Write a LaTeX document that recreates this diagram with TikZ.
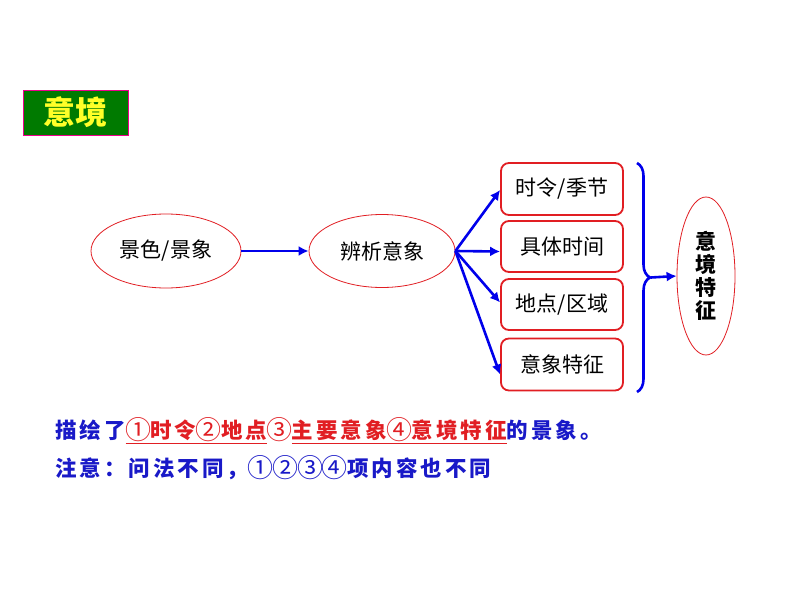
\documentclass[tikz,border=0pt]{standalone}
\usepackage{fontspec}
\setmainfont{Noto Sans CJK SC}
\newfontfamily\spacedfont[LetterSpace=14]{Noto Sans CJK SC}
\usetikzlibrary{arrows.meta,positioning,shapes.geometric,decorations.pathreplacing}
\definecolor{ttgreen}{RGB}{0,122,0}
\definecolor{ttyellow}{RGB}{255,255,40}
\definecolor{ttred}{RGB}{225,30,35}
\definecolor{ttblue}{RGB}{25,25,200}
\definecolor{arblue}{RGB}{0,0,235}
\newcommand{\circnum}[1]{\makebox[1.15em]{\raisebox{-1.5pt}{\fontsize{26}{26}\selectfont\mdseries #1}}}
\tikzset{
  oval/.style={ellipse, draw=ttred, thick, minimum width=150pt, minimum height=74pt, font=\fontsize{21}{24}\selectfont},
  itembox/.style={rectangle, rounded corners=8pt, draw=ttred, line width=1.8pt, minimum width=122pt, minimum height=51pt, font=\fontsize{21}{24}\selectfont},
  arr/.style={draw=arblue, line width=2.6pt, -{Latex[length=10pt,width=10pt]}},
  note/.style={anchor=west, inner sep=0pt, text=ttblue, font=\spacedfont\fontsize{21.5}{26}\selectfont\bfseries},
}
\begin{document}
\begin{tikzpicture}[x=1pt,y=-1pt]
  \useasboundingbox[fill=white] (0,0) rectangle (794,596);
  % title
  \node[draw=magenta, fill=ttgreen, minimum width=105pt, minimum height=45pt, text=ttyellow,
        font=\fontsize{32}{34}\selectfont\bfseries] (title) at (75.5,112.5) {意境};
  % left ovals
  \node[oval] (scene) at (166,251) {景色/景象};
  \node[oval, minimum width=146pt, minimum height=73pt] (analyse) at (382,251) {辨析意象};
  % items
  \node[itembox, minimum height=52pt] (season) at (562,189) {时令/季节};
  \node[itembox] (time) at (562,246.5) {具体时间};
  \node[itembox] (place) at (562,304.5) {地点/区域};
  \node[itembox, minimum height=52pt] (feature) at (562,364.5) {意象特征};
  % right oval
  \node[ellipse, draw=ttred, thick, minimum width=58pt, minimum height=158pt, align=center,
        font=\fontsize{21}{23}\selectfont\bfseries] (mood) at (706,276) {意\\境\\特\\征};
  % connectors
  \draw[arr] (scene) -- (analyse);
  \draw[arr] (analyse.east) -- ([yshift=-1pt]season.west);
  \draw[arr] (analyse.east) -- ([yshift=-5pt]time.west);
  \draw[arr] (analyse.east) -- ([yshift=2pt]place.west);
  \draw[arr] (analyse.east) -- ([yshift=-10pt]feature.west);
  % brace
  \draw[arblue, line width=2.6pt, decorate, decoration={brace, amplitude=13pt}] (637,163) -- (637,392);
  \coordinate (bracetip) at (651,277.5);
  \draw[arr] (bracetip) -- (mood.west);
  % notes
  \node[note] (note1) at (55,431)
    {描绘了\textcolor{ttred}{\underline{\circnum{①}时令\circnum{②}地点}\circnum{③}\underline{主要意象\circnum{④}意境特征}}的景象。};
  \node[note] (note2) at (55,468)
    {注意：问法不同，\circnum{①}\circnum{②}\circnum{③}\circnum{④}项内容也不同};
\end{tikzpicture}
\end{document}
